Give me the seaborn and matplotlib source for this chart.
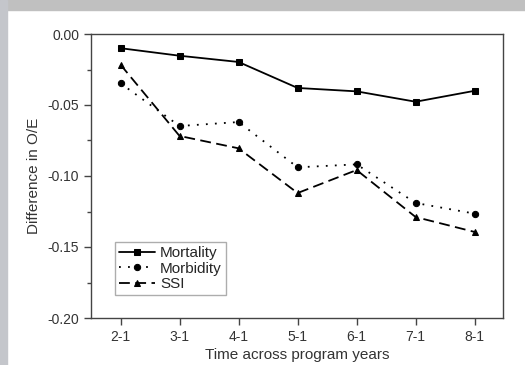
import pandas as pd
import numpy as np
import seaborn as sns
from matplotlib import pyplot as plt
from matplotlib.patches import Rectangle
from matplotlib.ticker import MultipleLocator

periods = ["2-1", "3-1", "4-1", "5-1", "6-1", "7-1", "8-1"]
mortality = [-0.010, -0.0153, -0.0197, -0.038, -0.0404, -0.0477, -0.040]
morbidity = [-0.0347, -0.0648, -0.062, -0.0939, -0.0918, -0.119, -0.1265]
ssi = [-0.0216, -0.0718, -0.0805, -0.112, -0.0958, -0.1289, -0.1394]

df = pd.concat([
    pd.DataFrame({"period": periods, "value": mortality, "series": "Mortality"}),
    pd.DataFrame({"period": periods, "value": morbidity, "series": "Morbidity"}),
    pd.DataFrame({"period": periods, "value": ssi, "series": "SSI"}),
])

sns.set_style("ticks")
plt.rcParams['font.family'] = ['Liberation Sans', 'DejaVu Sans']

fig = plt.figure(figsize=(5.25, 3.65), dpi=100, facecolor='white')
ax = fig.add_axes([91/525, 47/365, 412/525, 284/365])

g = sns.lineplot(data=df, x="period", y="value", hue="series", style="series",
                 palette=["black"] * 3,
                 markers={"Mortality": "s", "Morbidity": "o", "SSI": "^"},
                 dashes={"Mortality": "", "Morbidity": (1, 4), "SSI": (6, 3)},
                 markersize=4.5, markeredgecolor="black", linewidth=1.3,
                 sort=False, ax=ax)

ax.set_xlim(-0.5, 6.48)
ax.set_ylim(-0.20, 0.0)
ax.yaxis.set_major_locator(MultipleLocator(0.05))
ax.yaxis.set_minor_locator(MultipleLocator(0.025))
ax.yaxis.set_major_formatter(plt.FormatStrFormatter('%.2f'))
ax.tick_params(axis='both', which='major', direction='out', length=5, width=1,
               color='#444444', labelsize=10, labelcolor='#333333', top=False, right=False)
ax.tick_params(axis='y', which='minor', direction='out', length=3, width=1,
               color='#444444', right=False)
for s in ax.spines.values():
    s.set_visible(True)
    s.set_color('#444444')
    s.set_linewidth(1)

ax.set_xlabel("Time across program years", fontsize=11, color='#333333', labelpad=3)
ax.set_ylabel("Difference in O/E", fontsize=11, color='#333333', labelpad=5)

ax.legend(loc='lower left', bbox_to_anchor=(0.058, 0.081), fontsize=11,
          frameon=True, fancybox=False, edgecolor='#999999', handlelength=2.4,
          handletextpad=0.3, borderpad=0.25, labelspacing=0.1, borderaxespad=0)

fig.patches.append(Rectangle((0, 1 - 10/365), 1, 10/365, transform=fig.transFigure,
                             color='#c0c0c0', zorder=0))
fig.patches.append(Rectangle((0, 0), 7/525, 1, transform=fig.transFigure,
                             color='#c4c6cb', zorder=0))

plt.savefig("out.png", dpi=100, facecolor='white')
